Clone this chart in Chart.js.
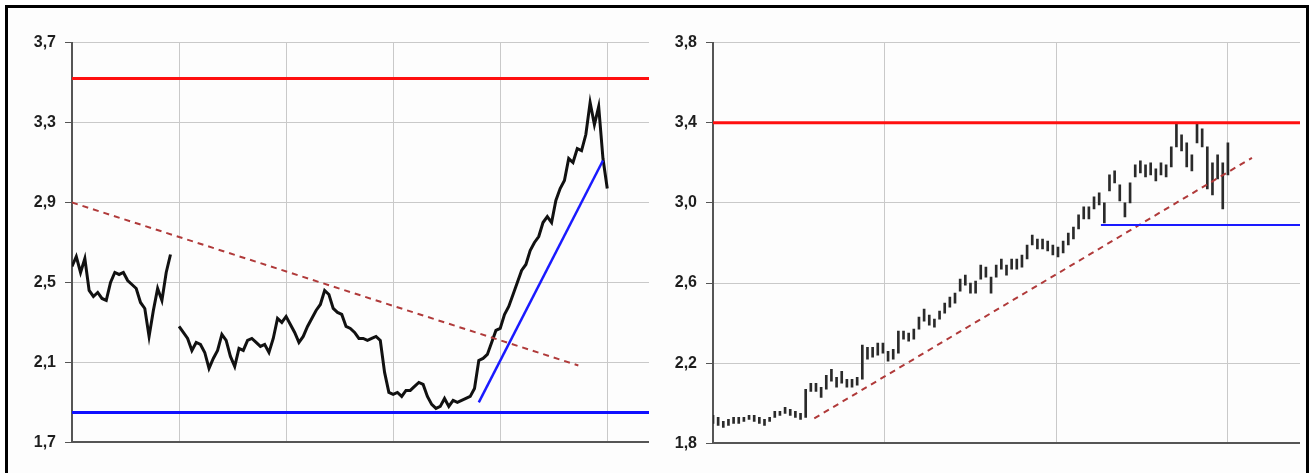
<!DOCTYPE html>
<html>
<head>
<meta charset="utf-8">
<script src="https://cdn.jsdelivr.net/npm/chart.js@4/dist/chart.umd.min.js"></script>
<style>
    body { margin: 0; background: #fff; }
    #frame { position: absolute; left: 5px; top: 5px; width: 1298px; height: 475px; border: 3px solid #000; background: #fdfdfd; }
    .box { position: absolute; }
</style>
</head>
<body>
<div id="frame"></div>
<div class="box" style="left:9px; top:24px; width:640px; height:437px;"><canvas id="left-chart"></canvas></div>
<div class="box" style="left:650px; top:24px; width:650px; height:438px;"><canvas id="right-chart"></canvas></div>
<script>
// left panel: daily closes, one value every 4 days, null = gap in the series
const leftStep = 4;
const leftPrice = [
    2.58, 2.63, 2.55, 2.62, 2.46, 2.43, 2.45, 2.42, 2.41, 2.50,
    2.55, 2.54, 2.55, 2.51, 2.49, 2.47, 2.40, 2.37, 2.23, 2.36,
    2.47, 2.41, 2.55, 2.64, null, 2.28, 2.25, 2.22, 2.16, 2.20,
    2.19, 2.15, 2.07, 2.12, 2.16, 2.24, 2.21, 2.13, 2.08, 2.17,
    2.16, 2.21, 2.22, 2.20, 2.18, 2.19, 2.15, 2.22, 2.32, 2.30,
    2.33, 2.29, 2.25, 2.20, 2.23, 2.28, 2.32, 2.36, 2.39, 2.46,
    2.44, 2.37, 2.35, 2.34, 2.28, 2.27, 2.25, 2.22, 2.22, 2.21,
    2.22, 2.23, 2.21, 2.05, 1.95, 1.94, 1.95, 1.93, 1.96, 1.96,
    1.98, 2.00, 1.99, 1.93, 1.89, 1.87, 1.88, 1.92, 1.88, 1.91,
    1.90, 1.91, 1.92, 1.93, 1.97, 2.11, 2.12, 2.14, 2.20, 2.26,
    2.27, 2.34, 2.38, 2.44, 2.50, 2.56, 2.59, 2.66, 2.70, 2.73,
    2.80, 2.83, 2.80, 2.91, 2.97, 3.01, 3.12, 3.10, 3.17, 3.16,
    3.24, 3.40, 3.29, 3.38, 3.12, 2.97
];
const leftResistance = 3.52;
const leftSupport = 1.85;
const leftTrendDays = [0, 473];
const leftTrendValues = [2.9, 2.085];
const leftRiseDays = [380, 496];
const leftRiseValues = [1.9, 3.11];
const leftTicks = [1.7, 2.1, 2.5, 2.9, 3.3, 3.7];
const leftDayTicks = [0, 100, 200, 300, 400, 500];

// right panel: high-low bars, one bar every 3 days
const rightStep = 3;
const rightLow = [
    1.90, 1.89, 1.88, 1.89, 1.90, 1.90, 1.91, 1.92, 1.91, 1.90,
    1.89, 1.91, 1.93, 1.94, 1.95, 1.94, 1.93, 1.92, 1.93, 2.06,
    2.06, 2.03, 2.07, 2.11, 2.08, 2.10, 2.08, 2.08, 2.09, 2.12,
    2.22, 2.23, 2.24, 2.25, 2.21, 2.22, 2.25, 2.32, 2.31, 2.32,
    2.37, 2.41, 2.39, 2.38, 2.42, 2.45, 2.48, 2.50, 2.56, 2.59,
    2.55, 2.55, 2.62, 2.63, 2.55, 2.63, 2.67, 2.64, 2.67, 2.67,
    2.68, 2.72, 2.79, 2.77, 2.77, 2.76, 2.74, 2.73, 2.75, 2.79,
    2.82, 2.87, 2.92, 2.92, 2.97, 2.99, 2.90, 3.06, 3.10, 3.01,
    2.93, 3.00, 3.13, 3.15, 3.13, 3.14, 3.11, 3.14, 3.13, 3.18,
    3.28, 3.26, 3.18, 3.16, 3.30, 3.28, 3.07, 3.04, 3.12, 2.97,
    3.14
];
const rightHigh = [
    1.94, 1.93, 1.91, 1.92, 1.93, 1.93, 1.93, 1.94, 1.94, 1.93,
    1.92, 1.93, 1.96, 1.96, 1.98, 1.97, 1.96, 1.95, 2.07, 2.10,
    2.10, 2.08, 2.14, 2.17, 2.13, 2.16, 2.12, 2.12, 2.13, 2.29,
    2.28, 2.28, 2.30, 2.30, 2.26, 2.27, 2.36, 2.36, 2.35, 2.37,
    2.43, 2.47, 2.44, 2.42, 2.46, 2.50, 2.53, 2.55, 2.62, 2.64,
    2.60, 2.61, 2.69, 2.68, 2.63, 2.69, 2.72, 2.69, 2.72, 2.72,
    2.74, 2.79, 2.84, 2.82, 2.82, 2.81, 2.79, 2.78, 2.81, 2.85,
    2.88, 2.94, 2.98, 2.98, 3.03, 3.05, 3.00, 3.14, 3.16, 3.09,
    3.00, 3.10, 3.19, 3.21, 3.19, 3.20, 3.17, 3.20, 3.19, 3.28,
    3.40, 3.34, 3.30, 3.24, 3.40, 3.37, 3.28, 3.20, 3.24, 3.20,
    3.30
];
const rightResistance = 3.4;
const rightSupport = 2.89;
const rightSupportStart = 226;
const rightTrendDays = [59, 314];
const rightTrendValues = [1.925, 3.225];
const rightTicks = [1.8, 2.2, 2.6, 3.0, 3.4, 3.8];
const rightDayTicks = [0, 100, 200, 300];

const LEFT_MAX_DAY = 539;
const RIGHT_MAX_DAY = 342;

function pairs(days, values) {
    return days.map((d, i) => ({ x: d, y: values[i] }));
}

function flatLine(from, to, value) {
    return [{ x: from, y: value }, { x: to, y: value }];
}

function scalesFor(minY, maxY, yTicks, maxX, xTicks) {
    return {
        x: {
            type: 'linear',
            min: 0,
            max: maxX,
            offset: false,
            afterBuildTicks: scale => { scale.ticks = xTicks.map(v => ({ value: v })); },
            ticks: { display: false },
            grid: { color: '#c9c9c9', lineWidth: 1, drawTicks: false, offset: false },
            border: { color: '#555', width: 2 }
        },
        y: {
            min: minY,
            max: maxY,
            afterBuildTicks: scale => { scale.ticks = yTicks.map(v => ({ value: v })); },
            afterFit: scale => { scale.width = 63; },
            ticks: {
                color: '#1e1e1e',
                padding: 9,
                font: { family: '"Liberation Sans", Arial, sans-serif', size: 16, weight: 'bold' },
                callback: v => v.toFixed(1).replace('.', ',')
            },
            grid: { color: '#c9c9c9', lineWidth: 1, tickLength: 7, tickColor: '#555' },
            border: { color: '#555', width: 2 }
        }
    };
}

const commonOptions = {
    responsive: true,
    maintainAspectRatio: false,
    animation: false,
    layout: { padding: 0 },
    plugins: { legend: { display: false }, tooltip: { enabled: false } },
    elements: { point: { radius: 0 }, line: { tension: 0 } }
};

new Chart(document.getElementById('left-chart').getContext('2d'), {
    type: 'line',
    data: {
        datasets: [
            { data: flatLine(0, LEFT_MAX_DAY, leftResistance), borderColor: '#ff1010', borderWidth: 3 },
            { data: flatLine(0, LEFT_MAX_DAY, leftSupport), borderColor: '#1010ff', borderWidth: 3 },
            { data: pairs(leftRiseDays, leftRiseValues), borderColor: '#1a1aff', borderWidth: 2.5 },
            { data: pairs(leftTrendDays, leftTrendValues), borderColor: '#b03a3a', borderWidth: 2, borderDash: [6, 5] },
            {
                data: leftPrice.map((v, i) => ({ x: i * leftStep, y: v })),
                borderColor: '#111',
                borderWidth: 3,
                spanGaps: false
            }
        ]
    },
    options: Object.assign({}, commonOptions, {
        scales: scalesFor(1.7, 3.7, leftTicks, LEFT_MAX_DAY, leftDayTicks)
    })
});

new Chart(document.getElementById('right-chart').getContext('2d'), {
    type: 'bar',
    data: {
        datasets: [
            { type: 'line', data: flatLine(0, RIGHT_MAX_DAY, rightResistance), borderColor: '#ff1010', borderWidth: 3 },
            { type: 'line', data: flatLine(rightSupportStart, RIGHT_MAX_DAY, rightSupport), borderColor: '#1a1aff', borderWidth: 2 },
            { type: 'line', data: pairs(rightTrendDays, rightTrendValues), borderColor: '#b03a3a', borderWidth: 2, borderDash: [6, 5] },
            {
                type: 'bar',
                data: rightLow.map((lo, i) => ({ x: i * rightStep, y: [lo, rightHigh[i]] })),
                backgroundColor: '#2a2a2a',
                barThickness: 2
            }
        ]
    },
    options: Object.assign({}, commonOptions, {
        scales: scalesFor(1.8, 3.8, rightTicks, RIGHT_MAX_DAY, rightDayTicks)
    })
});
</script>
</body>
</html>
